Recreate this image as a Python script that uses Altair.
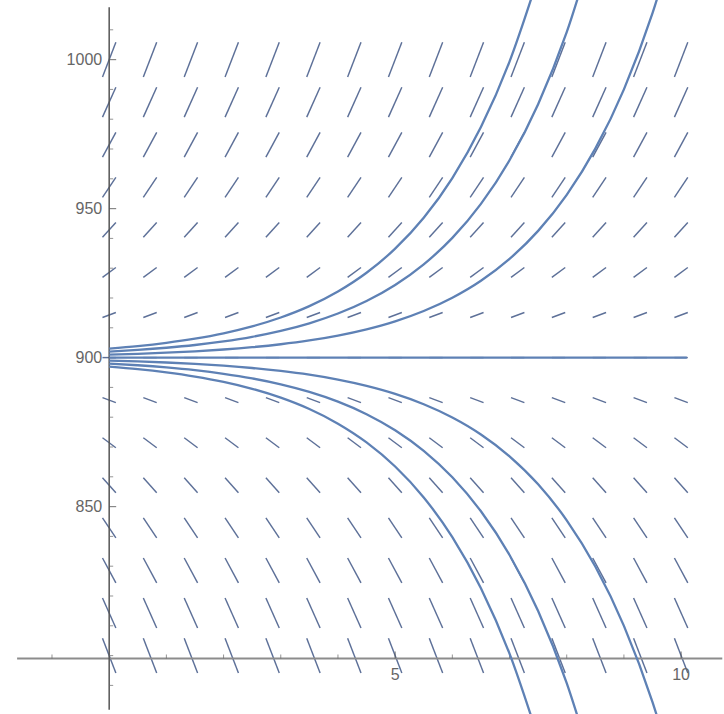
import altair as alt
import pandas as pd

# ---- solution curves P(t) (t in steps of 0.5) ----
times = [0, 0.5, 1, 1.5, 2, 2.5, 3, 3.5, 4, 4.5, 5, 5.5, 6, 6.5, 7, 7.5, 8, 8.5, 9, 9.5, 10]
up1 = [901.00, 901.28, 901.65, 902.12, 902.72, 903.49, 904.48, 905.75, 907.39, 909.49, 912.18,
       915.64, 920.09, 925.79, 933.12, 942.52, 954.60, 970.11, 990.02, 1015.58, 1048.41]
up2 = [902.00, 902.57, 903.30, 904.23, 905.44, 906.98, 908.96, 911.51, 914.78, 918.98, 924.37,
       931.29, 940.17, 951.58, 966.23, 985.04, 1009.20, 1040.21]
up3 = [903.00, 903.85, 904.95, 906.35, 908.15, 910.47, 913.45, 917.26, 922.17, 928.46, 936.55,
       946.93, 960.26, 977.37, 999.35, 1027.56]
dn1 = [899.00, 898.72, 898.35, 897.88, 897.28, 896.51, 895.52, 894.25, 892.61, 890.51, 887.82,
       884.36, 879.91, 874.21, 866.88, 857.48, 845.40, 829.89, 809.98, 784.42, 751.59]
dn2 = [898.00, 897.43, 896.70, 895.77, 894.56, 893.02, 891.04, 888.49, 885.22, 881.02, 875.63,
       868.71, 859.83, 848.42, 833.77, 814.96, 790.80, 759.79]
dn3 = [897.00, 896.15, 895.05, 893.65, 891.85, 889.53, 886.55, 882.74, 877.83, 871.54, 863.45,
       853.07, 839.74, 822.63, 800.65, 772.44]
flat_t = [0, 10.1]
flat_p = [900, 900]

# ---- slope field grid ----
field_t = [0, 0.714, 1.429, 2.143, 2.857, 3.571, 4.286, 5.0, 5.714, 6.429, 7.143, 7.857, 8.571, 9.286, 10.0]
field_p = [800, 814.29, 828.57, 842.86, 857.14, 871.43, 885.71, 900, 914.29, 928.57, 942.86,
           957.14, 971.43, 985.71, 1000]
field_slope = [-50, -42.86, -35.71, -28.57, -21.43, -14.29, -7.14, 0, 7.14, 14.29, 21.43,
               28.57, 35.71, 42.86, 50]
half_w = 0.117  # half horizontal extent of each slope segment

# ---- axes ----
y_major = [850, 900, 950, 1000]
y_minor = [790, 800, 810, 820, 830, 840, 860, 870, 880, 890, 910, 920, 930, 940, 960, 970, 980, 990, 1010]
x_major = [5, 10]
x_minor = [-1, 1, 2, 3, 4, 6, 7, 8, 9]
axis_origin_t = 0
axis_origin_p = 799
haxis_range = [-1.61, 10.72]
vaxis_range = [781.8, 1017.6]

x_dom = [-1.909, 10.715]
y_dom = [780.4, 1020.0]

# ---- build tables ----
rows = []
for name, vals in [("u1", up1), ("u2", up2), ("u3", up3), ("d1", dn1), ("d2", dn2), ("d3", dn3)]:
    for t, p in zip(times, vals):
        rows.append({"curve": name, "t": t, "p": p})
for t, p in zip(flat_t, flat_p):
    rows.append({"curve": "c0", "t": t, "p": p})
curves = pd.DataFrame(rows)

seg = []
for p, s in zip(field_p, field_slope):
    for t in field_t:
        seg.append({"t1": t - half_w, "t2": t + half_w, "p1": p - half_w * s, "p2": p + half_w * s})
segs = pd.DataFrame(seg)

xs = alt.Scale(domain=x_dom, nice=False, zero=False)
ys = alt.Scale(domain=y_dom, nice=False, zero=False)

field = alt.Chart(segs).mark_rule(color="#5d7098", strokeWidth=1.45, clip=True).encode(
    x=alt.X("t1:Q", scale=xs, axis=None),
    x2="t2:Q",
    y=alt.Y("p1:Q", scale=ys, axis=None),
    y2="p2:Q",
)

lines = alt.Chart(curves).mark_line(color="#5E81B5", strokeWidth=2.3, interpolate="monotone", clip=True).encode(
    x=alt.X("t:Q", scale=xs, axis=None),
    y=alt.Y("p:Q", scale=ys, axis=None),
    detail="curve:N",
    order="t:Q",
)

haxis = alt.Chart(pd.DataFrame({"a": [haxis_range[0]], "b": [haxis_range[1]], "p": [axis_origin_p]})).mark_rule(
    color="#8c8c8c", strokeWidth=2).encode(
    x=alt.X("a:Q", scale=xs, axis=None), x2="b:Q", y=alt.Y("p:Q", scale=ys, axis=None))

vaxis = alt.Chart(pd.DataFrame({"t": [axis_origin_t], "a": [vaxis_range[0]], "b": [vaxis_range[1]]})).mark_rule(
    color="#555555", strokeWidth=1.5).encode(
    x=alt.X("t:Q", scale=xs, axis=None), y=alt.Y("a:Q", scale=ys, axis=None), y2="b:Q")

ymaj_df = pd.DataFrame({"t": [axis_origin_t] * len(y_major), "p": y_major, "lab": [str(v) for v in y_major]})
ymin_df = pd.DataFrame({"t": [axis_origin_t] * len(y_minor), "p": y_minor})
xmaj_df = pd.DataFrame({"t": x_major, "p": [axis_origin_p] * len(x_major), "lab": [str(v) for v in x_major]})
xmin_df = pd.DataFrame({"t": x_minor, "p": [axis_origin_p] * len(x_minor)})

enc = dict(x=alt.X("t:Q", scale=xs, axis=None), y=alt.Y("p:Q", scale=ys, axis=None))

ymaj_ticks = alt.Chart(ymaj_df).mark_tick(orient="horizontal", size=7, thickness=1.2, xOffset=3.5,
                                          color="#555555").encode(**enc)
ymin_ticks = alt.Chart(ymin_df).mark_tick(orient="horizontal", size=4, thickness=1, xOffset=2,
                                          color="#666666").encode(**enc)
xmaj_ticks = alt.Chart(xmaj_df).mark_tick(orient="vertical", size=7, thickness=1.2, yOffset=-3.5,
                                          color="#555555").encode(**enc)
xmin_ticks = alt.Chart(xmin_df).mark_tick(orient="vertical", size=4, thickness=1, yOffset=-2,
                                          color="#666666").encode(**enc)

ylabels = alt.Chart(ymaj_df).mark_text(align="right", baseline="middle", dx=-7, fontSize=16,
                                       font="Liberation Sans", color="#666666").encode(text="lab:N", **enc)
xlabels = alt.Chart(xmaj_df).mark_text(align="center", baseline="top", dy=8, fontSize=16,
                                       font="Liberation Sans", color="#666666").encode(text="lab:N", **enc)

chart = alt.layer(
    field, haxis, vaxis, ymin_ticks, ymaj_ticks, xmin_ticks, xmaj_ticks, lines, ylabels, xlabels
).properties(
    width=724, height=714, padding=0, background="white",
    autosize=alt.AutoSizeParams(type="fit", contains="padding"),
).configure_view(stroke=None)

chart.save("out.html", embed_options={"renderer": "svg", "actions": False})
